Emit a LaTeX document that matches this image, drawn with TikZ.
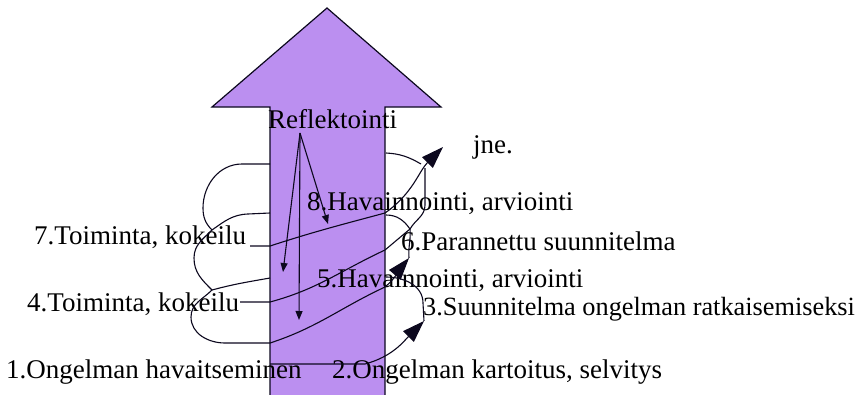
\documentclass[tikz,border=0pt]{standalone}
\usepackage{fontspec}
\setmainfont{Liberation Serif}
\usetikzlibrary{arrows.meta}
\definecolor{lav}{RGB}{187,143,240}
\definecolor{ink}{RGB}{12,8,30}
\begin{document}
\begin{tikzpicture}[x=1pt,y=-1pt,
  lbl/.style={anchor=base west, inner sep=0pt, font=\fontsize{27}{31}\selectfont},
  conn/.style={draw=ink, line width=1.1pt},
  bighead/.style={-{Triangle[length=22pt,width=15pt]}},
  smallhead/.style={-{Triangle[length=9pt,width=7pt]}}]
\useasboundingbox (0,0) rectangle (865,394);
% big arrow
\draw[fill=lav, draw=ink, line width=1.2pt] (270,395) -- (270,107) -- (212,107) -- (327,8) -- (441,107) -- (385,107) -- (385,395);
% labels
\node[lbl] (tR) at (268,128) {Reflektointi};
\node[lbl] (tJ) at (473,153) {jne.};
\node[lbl] (t8) at (307,210) {8.Havainnointi, arviointi};
\node[lbl] (t7) at (34,244) {7.Toiminta, kokeilu};
\node[lbl] (t6) at (401,250) {6.Parannettu suunnitelma};
\node[lbl] (t5) at (317,287) {5.Havainnointi, arviointi};
\node[lbl] (t4) at (27,311) {4.Toiminta, kokeilu};
\node[lbl,font=\fontsize{26.3}{30}\selectfont] (t3) at (423,315) {3.Suunnitelma ongelman ratkaisemiseksi};
\node[lbl] (t1) at (6,378) {1.Ongelman havaitseminen};
\node[lbl] (t2) at (332,378) {2.Ongelman kartoitus, selvitys};
% coordinates
\coordinate (o) at (300,133);
\coordinate (r8) at (328,224);
\coordinate (r7) at (283,272);
\coordinate (r4) at (299,320);
\coordinate (L1) at (270,164);
\coordinate (L2) at (270,213);
\coordinate (L3) at (270,278);
\coordinate (L4) at (270,343);
\coordinate (A) at (212,230);
\coordinate (B) at (212,290);
\coordinate (h7) at (250,246);
\coordinate (L7) at (270,246);
\coordinate (R7) at (385,213);
\coordinate (h4) at (240,302);
\coordinate (L4h) at (270,302);
\coordinate (R4) at (385,250);
\coordinate (C) at (410,229);
\coordinate (R1) at (385,287);
\coordinate (cR1) at (386,153);
\coordinate (cR2) at (386,215);
\coordinate (cR3) at (386,277);
\coordinate (jneTip) at (443,147);
\coordinate (jneBase) at (421,164);
\coordinate (jneBase2) at (425,168);
\coordinate (a6tip) at (409,258);
\coordinate (a3tip) at (424,321);
\coordinate (h1) at (270,364);
\coordinate (h1r) at (365,364);
% reflection arrows
\draw[conn,smallhead] (o) -- (r8);
\draw[conn,smallhead] (o) -- (r7);
\draw[conn,smallhead] (o) -- (r4);
% left loops
\draw[conn] (L1) -- (242,164) to[out=180,in=90] (203,208) to[out=-90,in=135] (A);
\draw[conn] (L2) -- (248,214) to[out=182,in=35] (A);
\draw[conn] (A) to[out=225,in=90] (194,258) to[out=-90,in=135] (B);
\draw[conn] (B) to[out=15,in=190] (L3);
\draw[conn] (B) to[out=225,in=90] (191,317) to[out=-90,in=180] (225,343) -- (L4);
% horizontal and diagonal lines
\draw[conn,bighead] (h7) -- (L7) to[out=18,in=195] (R7) to[out=35,in=225] (jneTip);
\draw[conn] (h4) -- (L4h) to[out=15,in=205] (R4) to[out=40,in=220] (C);
\draw[conn] (C) to[out=60,in=-90] (425,205) -- (jneBase2);
\draw[conn] (cR1) to[out=-3,in=150] (jneBase);
\draw[conn] (cR2) to[out=0,in=125] (C);
\draw[conn] (C) to[out=-85,in=95] (a6tip);
\draw[conn,bighead] (L4) to[out=18,in=205] (R1) to[out=40,in=230] (a6tip);
\draw[conn] (cR3) to[out=0,in=90] (423,303) -- (a3tip);
\draw[conn,bighead] (h1) -- (h1r) to[out=15,in=225] (a3tip);
\end{tikzpicture}
\end{document}
